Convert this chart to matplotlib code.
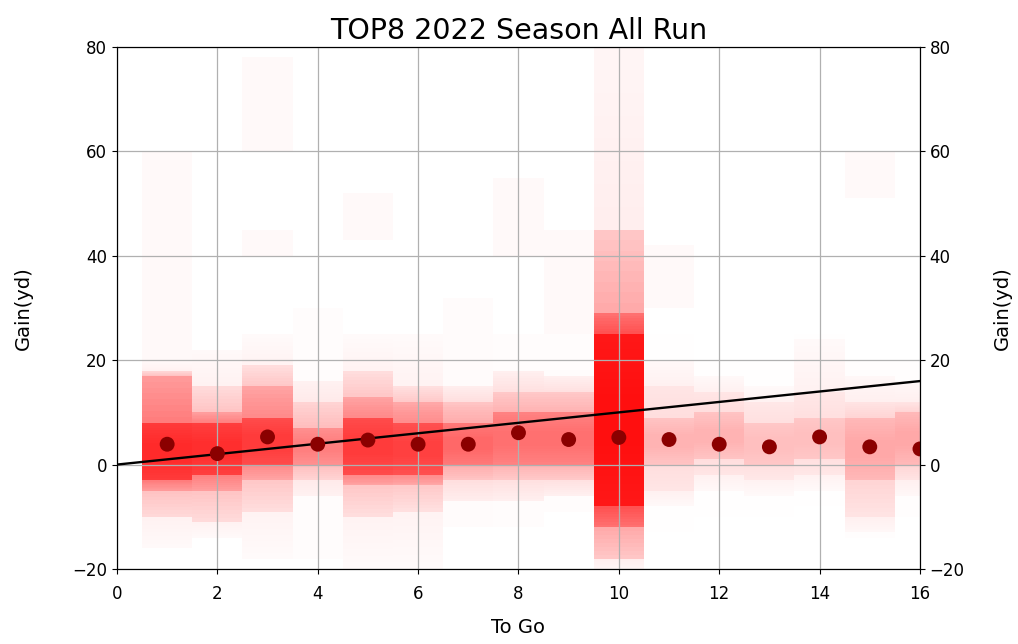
import matplotlib
matplotlib.use("Agg")
import matplotlib.pyplot as plt
from matplotlib.patches import Rectangle

# ---- data ----
togo = list(range(1, 17))
mean_gain = [3.9, 2.1, 5.3, 3.9, 4.7, 3.9, 3.9, 6.1, 4.8, 5.2, 4.8, 3.9, 3.4, 5.3, 3.4, 3.0]

# density bands per To-Go column (yards)
core_lo = [-3, -2, 0, 0, -2, -2, 0, 0, 0, -8, 0, 1, 0, 1, -3, 0]
core_hi = [8, 8, 9, 7, 9, 8, 8, 10, 10, 25, 9, 10, 8, 9, 9, 10]
inner_lo = [-5, -5, -3, -3, -4, -4, -3, -3, -3, -12, -5, -2, -3, -2, -10, -3]
inner_hi = [17, 10, 15, 12, 13, 12, 12, 14, 14, 29, 15, 14, 12, 14, 12, 12]
outer_lo = [-10, -11, -9, -6, -10, -9, -7, -7, -6, -18, -8, -5, -6, -5, -13, -6]
outer_hi = [18, 15, 19, 16, 18, 15, 15, 18, 17, 45, 20, 17, 15, 24, 17, 16]
tail_lo = [-16, -14, -18, -18, -20, -20, -12, -12, -9, -20, -13, -10, -10, -8, -14, -10]
tail_hi = [20, 22, 25, 30, 25, 25, 32, 25, 25, 80, 25, 20, 20, 25, 20, 20]
strength = [1.0, 0.95, 0.85, 0.45, 0.85, 0.8, 0.55, 0.5, 0.5, 1.6, 0.22, 0.22, 0.2, 0.2, 0.24, 0.24]

# isolated faint patches (long gains)
patch_togo = [1, 3, 3, 5, 8, 9, 11, 15]
patch_lo = [20, 60, 40, 43, 40, 25, 30, 51]
patch_hi = [60, 78, 45, 52, 55, 45, 42, 60]

line_x = [0, 16]
line_y = [0, 16]

x_ticks = [0, 2, 4, 6, 8, 10, 12, 14, 16]
y_ticks = [-20, 0, 20, 40, 60, 80]

# ---- styling ----
level_alpha = [0.05, 0.2, 0.4, 0.75]   # tail, outer, inner, core
base_frac = [0.5, 0.5, 0.5, 0.7]
n_steps = 8

fig = plt.figure(figsize=(10.18, 6.44), dpi=100)
ax = fig.add_axes([0.1149, 0.1165, 0.7888, 0.8105])

los = [tail_lo, outer_lo, inner_lo, core_lo]
his = [tail_hi, outer_hi, inner_hi, core_hi]
for i, t in enumerate(togo):
    for L in range(4):
        a = min(1.0, level_alpha[L] * strength[i])
        lo, hi = los[L][i], his[L][i]
        if L < 3:
            nlo, nhi = los[L + 1][i], his[L + 1][i]
        else:
            c, hw = (lo + hi) / 2, 0.15 * (hi - lo)
            nlo, nhi = c - hw, c + hw
        ax.add_patch(Rectangle((t - 0.5, lo), 1.0, hi - lo, facecolor="red",
                               edgecolor="none", alpha=base_frac[L] * a, zorder=1))
        for j in range(1, n_steps + 1):
            blo = lo + (nlo - lo) * j / n_steps
            bhi = hi - (hi - nhi) * j / n_steps
            ax.add_patch(Rectangle((t - 0.5, blo), 1.0, bhi - blo, facecolor="red",
                                   edgecolor="none",
                                   alpha=(1 - base_frac[L]) * a / n_steps, zorder=1))
for t, lo, hi in zip(patch_togo, patch_lo, patch_hi):
    ax.add_patch(Rectangle((t - 0.5, lo), 1.0, hi - lo,
                           facecolor="red", edgecolor="none", alpha=0.025, zorder=1))

ax.plot(line_x, line_y, color="black", lw=1.7, zorder=3)
ax.scatter(togo, mean_gain, s=115, color="#8b0000", zorder=4, edgecolors="none")

ax.set_xlim(0, 16)
ax.set_ylim(-20, 80)
ax.set_xticks(x_ticks)
ax.set_yticks(y_ticks)
ax.grid(True, color="#b0b0b0", lw=0.9)
ax.set_axisbelow(False)
ax.tick_params(labelsize=12)
ax.tick_params(axis="x", pad=8)
ax.set_xlabel("To Go", fontsize=14, labelpad=11)
ax.set_ylabel("Gain(yd)", fontsize=14, labelpad=28)
ax.set_title("TOP8 2022 Season All Run", fontsize=20.5, pad=6)

ax2 = ax.twinx()
ax2.set_ylim(-20, 80)
ax2.set_yticks(y_ticks)
ax2.tick_params(labelsize=12)
ax2.set_ylabel("Gain(yd)", fontsize=14, labelpad=20)

fig.savefig("out.png", dpi=100)
